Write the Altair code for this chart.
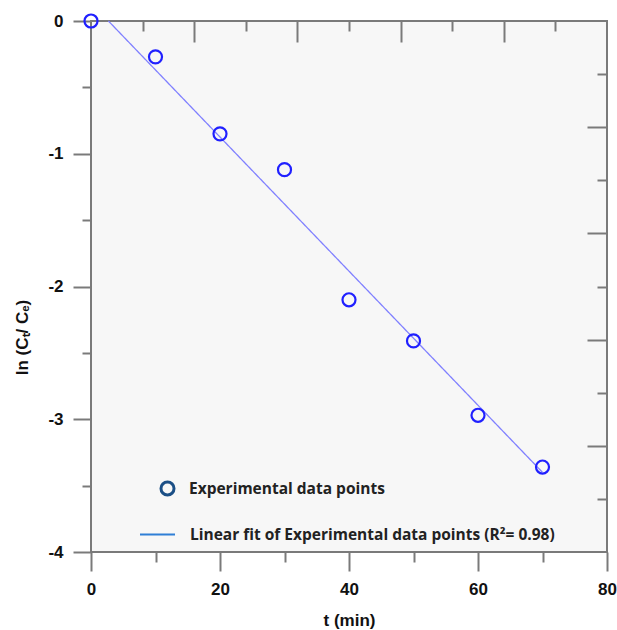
import altair as alt
import pandas as pd

# ---- data ----
t_min = [0, 10, 20, 30, 40, 50, 60, 70]
ln_ct_ce = [0.0, -0.27, -0.85, -1.12, -2.10, -2.41, -2.97, -3.36]
fit_t = [2.7, 70]
fit_ln = [0.0, -3.40]

x_major = [0, 20, 40, 60, 80]
x_minor = [10, 30, 50, 70]
y_major = [0, -1, -2, -3, -4]
y_minor = [-0.5, -1.5, -2.5, -3.5]
top_long = [16, 32, 48, 64]
top_short = [8, 24, 40, 56, 72]
right_long = [-0.8, -1.6, -2.4, -3.2]
right_short = [-0.4, -1.2, -2.0, -2.8, -3.6]

series_points = "Experimental data points"
series_fit = "Linear fit of Experimental data points (R²= 0.98)"

pts = pd.DataFrame({"t": t_min, "v": ln_ct_ce, "s": series_points})
fit = pd.DataFrame({"t": fit_t, "v": fit_ln, "s": series_fit})

xs = alt.Scale(domain=[0, 80], nice=False, zero=False)
ys = alt.Scale(domain=[-4, 0], nice=False, zero=False)

TICK = "#7a7a7a"
base = dict(domain=False, grid=False, tickColor=TICK, tickWidth=2,
            labelFont="Liberation Sans", labelFontWeight="bold",
            labelFontSize=17, labelColor="#111111", labelFlush=False,
            labelExpr="toString(datum.value)")
title_style = dict(titleFont="Liberation Sans", titleFontWeight="bold",
                   titleFontSize=17, titleColor="#111111")
legend_text = dict(title=None, orient="none", padding=0, labelLimit=600,
                   labelFont="Open Sans", labelFontWeight="bold",
                   labelFontSize=15.5, labelColor="#222222")

points = alt.Chart(pts).mark_point(
    filled=False, color="#2020ff", size=170, strokeWidth=2.2, opacity=1
).encode(
    x=alt.X("t:Q", scale=xs, axis=alt.Axis(
        orient="bottom", values=x_major, tickSize=19, labelPadding=10,
        title="t (min)", titleX=258, titleY=68, titleBaseline="middle",
        titleAlign="center", **base, **title_style)),
    y=alt.Y("v:Q", scale=ys, axis=alt.Axis(
        orient="left", values=y_major, tickSize=18, labelPadding=10,
        title="ln (Cₜ/ Cₑ)", titleAngle=270, titleX=-69, titleY=316,
        titleBaseline="middle", titleAlign="center", **base, **title_style)),
    shape=alt.Shape("s:N", scale=alt.Scale(domain=[series_points], range=["circle"]),
                    legend=alt.Legend(legendX=68, legendY=459,
                                      symbolStrokeColor="#1b4f86",
                                      symbolStrokeWidth=3, symbolSize=170,
                                      labelOffset=13, **legend_text)),
)

line = alt.Chart(fit).mark_line(color="#8080ff", strokeWidth=1.3).encode(
    x=alt.X("t:Q", scale=xs, axis=alt.Axis(
        orient="bottom", values=x_minor, tickSize=10, labels=False, title=None,
        domain=False, grid=False, tickColor=TICK, tickWidth=2)),
    y=alt.Y("v:Q", scale=ys, axis=alt.Axis(
        orient="left", values=y_minor, tickSize=9, labels=False, title=None,
        domain=False, grid=False, tickColor=TICK, tickWidth=2)),
    strokeDash=alt.StrokeDash("s:N", scale=alt.Scale(domain=[series_fit], range=[[1, 0]]),
                              legend=alt.Legend(legendX=48, legendY=495,
                                                symbolType="stroke",
                                                symbolStrokeColor="#2f7fd6",
                                                symbolStrokeWidth=2,
                                                symbolSize=1225,
                                                labelOffset=14, **legend_text)),
)

inner_long = alt.Chart(pts).mark_point(opacity=0).encode(
    x=alt.X("t:Q", scale=xs, axis=alt.Axis(
        orient="top", values=top_long, tickSize=21, offset=-21, labels=False,
        title=None, domain=False, grid=False, tickColor=TICK, tickWidth=2)),
    y=alt.Y("v:Q", scale=ys, axis=alt.Axis(
        orient="right", values=right_long, tickSize=20, offset=-20, labels=False,
        title=None, domain=False, grid=False, tickColor=TICK, tickWidth=2)),
)

inner_short = alt.Chart(pts).mark_point(opacity=0).encode(
    x=alt.X("t:Q", scale=xs, axis=alt.Axis(
        orient="top", values=top_short, tickSize=10, offset=-10, labels=False,
        title=None, domain=False, grid=False, tickColor=TICK, tickWidth=2)),
    y=alt.Y("v:Q", scale=ys, axis=alt.Axis(
        orient="right", values=right_short, tickSize=10, offset=-10, labels=False,
        title=None, domain=False, grid=False, tickColor=TICK, tickWidth=2)),
)

chart = alt.layer(inner_long, inner_short, line, points).resolve_axis(
    x="independent", y="independent"
).properties(
    width=516, height=531,
    padding={"left": 91, "top": 21, "right": 10, "bottom": 78},
    autosize=alt.AutoSizeParams(type="none"),
    background="white",
).configure_view(stroke=TICK, strokeWidth=2, fill="#f7f7f7")

chart.save("out.html", embed_options={"renderer": "svg", "actions": False})
